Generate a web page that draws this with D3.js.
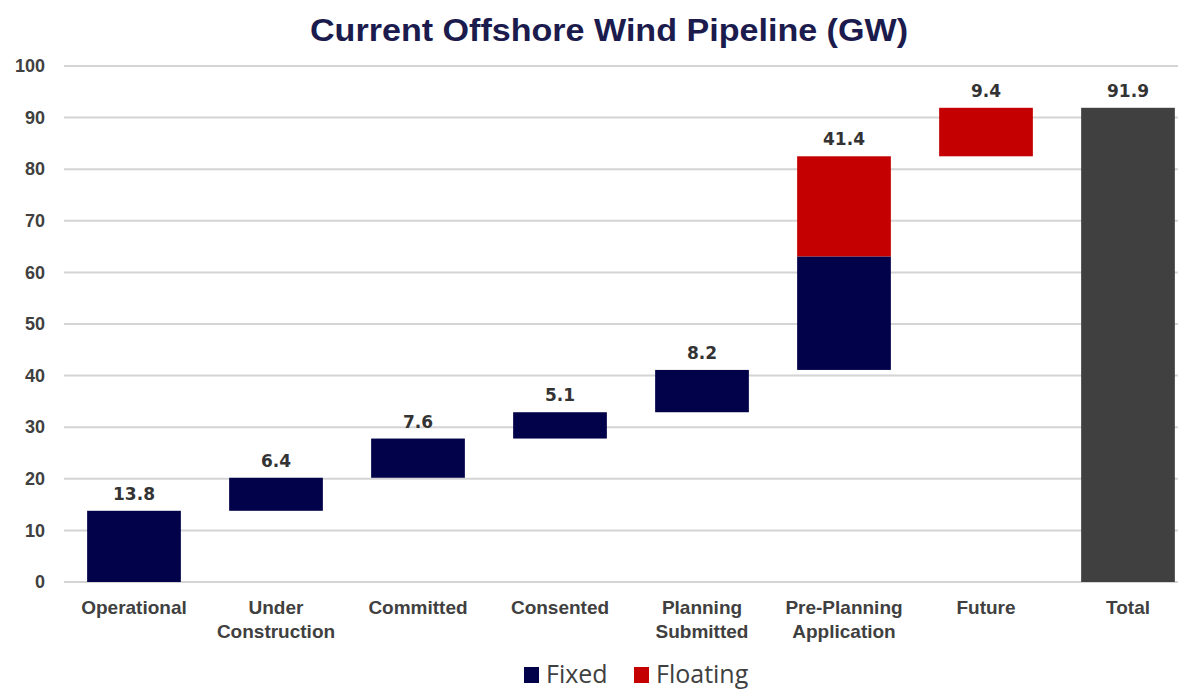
<!DOCTYPE html>
<html>
<head>
<meta charset="utf-8">
<script src="https://cdn.jsdelivr.net/npm/d3@7"></script>
<style>
  body { margin: 0; background: #fff; }
  svg { display: block; }
</style>
</head>
<body>
<div id="chart"></div>
<script>
// data
const categories = ["Operational", "Under Construction", "Committed", "Consented",
  "Planning Submitted", "Pre-Planning Application", "Future", "Total"];
const labelLines = [["Operational"], ["Under", "Construction"], ["Committed"], ["Consented"],
  ["Planning", "Submitted"], ["Pre-Planning", "Application"], ["Future"], ["Total"]];
const fixedValues = [13.8, 6.4, 7.6, 5.1, 8.2, 22.0, 0];
const floatingValues = [0, 0, 0, 0, 0, 19.4, 9.4];
const totalValue = 91.9;
const yTicks = [0, 10, 20, 30, 40, 50, 60, 70, 80, 90, 100];
const seriesNames = ["Fixed", "Floating"];

const W = 1184, H = 691;
const colors = { Fixed: "#02024a", Floating: "#c40000", Total: "#404040" };

const svg = d3.select("#chart").append("svg")
  .attr("width", W).attr("height", H);

// title
svg.append("text")
  .attr("x", 609).attr("y", 41)
  .attr("text-anchor", "middle")
  .style("font-family", "'Liberation Sans', Arial, sans-serif")
  .style("font-weight", "bold")
  .style("font-size", "32px")
  .attr("fill", "#1b1b4d")
  .attr("textLength", 598)
  .attr("lengthAdjust", "spacingAndGlyphs")
  .text("Current Offshore Wind Pipeline (GW)");

const x = d3.scaleBand()
  .domain(categories)
  .range([63, 1199])
  .paddingInner(0.34)
  .paddingOuter(0.17);

const y = d3.scaleLinear()
  .domain([0, 100])
  .range([582, 66]);

// gridlines
svg.append("g")
  .selectAll("line")
  .data(yTicks)
  .enter()
  .append("line")
  .attr("x1", 64).attr("x2", 1178)
  .attr("y1", d => y(d)).attr("y2", d => y(d))
  .attr("stroke", "#d4d4d4")
  .attr("stroke-width", 2);

// y axis labels
const yAxis = svg.append("g")
  .attr("transform", "translate(45,0)")
  .call(d3.axisLeft(y).tickValues(yTicks).tickSize(0).tickPadding(0));
yAxis.select(".domain").remove();
yAxis.selectAll("text")
  .style("font-family", "'Liberation Sans', Arial, sans-serif")
  .style("font-weight", "bold")
  .style("font-size", "18px")
  .attr("fill", "#404040");

// build waterfall segments
const segments = [];
let running = 0;
categories.slice(0, 7).forEach((c, i) => {
  const f = fixedValues[i], fl = floatingValues[i];
  if (f > 0) segments.push({ cat: c, y0: running, y1: running + f, type: "Fixed" });
  if (fl > 0) segments.push({ cat: c, y0: running + f, y1: running + f + fl, type: "Floating" });
  running += f + fl;
});
segments.push({ cat: "Total", y0: 0, y1: totalValue, type: "Total" });

svg.append("g")
  .selectAll("rect")
  .data(segments)
  .enter()
  .append("rect")
  .attr("x", d => x(d.cat))
  .attr("width", x.bandwidth())
  .attr("y", d => y(d.y1))
  .attr("height", d => y(d.y0) - y(d.y1))
  .attr("fill", d => colors[d.type]);

// value labels
const valueLabels = [];
running = 0;
categories.slice(0, 7).forEach((c, i) => {
  const v = fixedValues[i] + floatingValues[i];
  running += v;
  valueLabels.push({ cat: c, top: running, v: v });
});
valueLabels.push({ cat: "Total", top: totalValue, v: totalValue });

svg.append("g")
  .selectAll("text")
  .data(valueLabels)
  .enter()
  .append("text")
  .attr("x", d => x(d.cat) + x.bandwidth() / 2)
  .attr("y", d => y(d.top) - 11)
  .attr("text-anchor", "middle")
  .style("font-family", "'DejaVu Sans', sans-serif")
  .style("font-weight", "bold")
  .style("font-size", "17px")
  .attr("fill", "#333")
  .text(d => d.v.toFixed(1));

// category labels
const catG = svg.append("g")
  .selectAll("text")
  .data(categories)
  .enter()
  .append("text")
  .attr("x", d => x(d) + x.bandwidth() / 2)
  .attr("y", 614)
  .attr("text-anchor", "middle")
  .style("font-family", "'Liberation Sans', Arial, sans-serif")
  .style("font-weight", "bold")
  .style("font-size", "19px")
  .attr("fill", "#404040");
catG.each(function(d, i) {
  const t = d3.select(this);
  labelLines[i].forEach((line, j) => {
    t.append("tspan")
      .attr("x", x(d) + x.bandwidth() / 2)
      .attr("dy", j === 0 ? 0 : 24)
      .text(line);
  });
});

// legend
const legend = svg.append("g");
const legendX = [524, 634];
seriesNames.forEach((s, i) => {
  legend.append("rect")
    .attr("x", legendX[i]).attr("y", 667)
    .attr("width", 15).attr("height", 16)
    .attr("fill", colors[s]);
  legend.append("text")
    .attr("x", legendX[i] + 22).attr("y", 683)
    .style("font-family", "'Open Sans', 'Noto Sans', sans-serif")
    .style("font-size", "25px")
    .attr("fill", "#404040")
    .text(s);
});
</script>
</body>
</html>
